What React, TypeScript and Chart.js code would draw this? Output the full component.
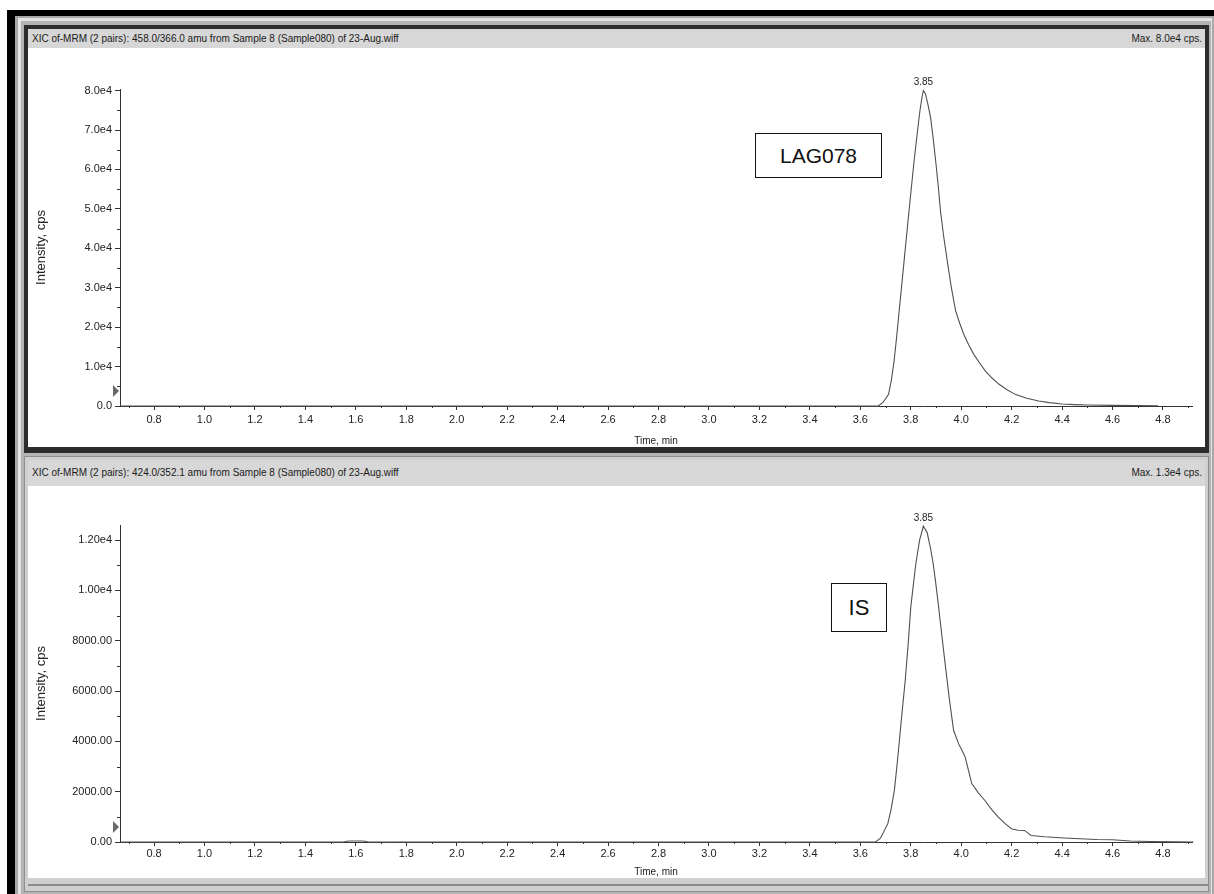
import React, { useEffect, useRef } from "react";
import { Chart, registerables } from "chart.js";

Chart.register(...registerables);

const FONT = "'Liberation Sans', Arial, sans-serif";

// LAG078 trace (time in min, intensity in cps)
const lagTimes = [
  0.67, 3.66, 3.671, 3.69, 3.712, 3.723, 3.734, 3.744, 3.754, 3.767, 3.78, 3.797, 3.813, 3.825,
  3.836, 3.845, 3.85, 3.858, 3.868, 3.879, 3.889, 3.899, 3.909, 3.918, 3.931, 3.945, 3.961, 3.978,
  3.994, 4.01, 4.03, 4.05, 4.073, 4.096, 4.122, 4.149, 4.18, 4.214, 4.26, 4.307, 4.35, 4.4, 4.45,
  4.5, 4.6, 4.7, 4.78,
];
const lagValues = [
  0, 0, 0, 900, 2950, 6500, 11400, 17500, 24100, 32500, 41000, 52000, 62000, 68800,
  74700, 78500, 80000, 79200, 76500, 73000, 67800, 62000, 55800, 49400, 42800, 36700, 30000, 24100,
  21000, 18200, 15500, 13100, 10900, 8860, 7100, 5570, 4200, 2950, 1950, 1270, 850, 520, 350,
  250, 170, 120, 80,
];

// IS trace
const isTimes = [
  0.67, 1.55, 1.57, 1.63, 1.65, 3.66, 3.68, 3.709, 3.722, 3.735, 3.745, 3.755, 3.766, 3.778, 3.79,
  3.8, 3.81, 3.82, 3.835, 3.85, 3.865, 3.879, 3.889, 3.898, 3.908, 3.918, 3.928, 3.938, 3.954, 3.97,
  3.99, 4.003, 4.016, 4.03, 4.042, 4.068, 4.094, 4.12, 4.147, 4.173, 4.199, 4.225, 4.251, 4.277,
  4.33, 4.408, 4.47, 4.539, 4.6, 4.67, 4.75, 4.85, 4.92,
];
const isValues = [
  0, 0, 40, 40, 0, 0, 150, 730, 1300, 2050, 3000, 4036, 5200, 6417, 7900,
  9325, 10200, 11050, 12000, 12550, 12300, 11640, 11050, 10380, 9550, 8670, 7800, 6940, 5600, 4430,
  3900, 3650, 3370, 2800, 2320, 1950, 1650, 1300, 990, 740, 530, 470, 460, 260,
  210, 160, 130, 100, 90, 40, 20, 10, 0,
];

// axis ticks
const xTickValues = [
  0.8, 1.0, 1.2, 1.4, 1.6, 1.8, 2.0, 2.2, 2.4, 2.6, 2.8, 3.0, 3.2, 3.4, 3.6, 3.8, 4.0, 4.2, 4.4, 4.6, 4.8,
];
const topYTicks = [0, 10000, 20000, 30000, 40000, 50000, 60000, 70000, 80000];
const bottomYTicks = [0, 2000, 4000, 6000, 8000, 10000, 12000];

const xRange = [0.665, 4.915];
const topYMax = 80400;
const bottomYMax = 12600;
const topMarker = 3800;
const bottomMarker = 600;

const topTitle = "XIC of-MRM (2 pairs): 458.0/366.0 amu from Sample 8 (Sample080) of 23-Aug.wiff";
const topMax = "Max. 8.0e4 cps.";
const bottomTitle = "XIC of-MRM (2 pairs): 424.0/352.1 amu from Sample 8 (Sample080) of 23-Aug.wiff";
const bottomMax = "Max. 1.3e4 cps.";

const extrasPlugin = {
  id: "chromaExtras",
  afterDraw(chart: any, _args: any, opts: any) {
    const { ctx, chartArea } = chart;
    const x = chart.scales.x;
    const y = chart.scales.y;
    ctx.save();
    ctx.strokeStyle = "#333";
    ctx.lineWidth = 1;
    // minor x ticks
    const xs = opts.xMinor;
    const kx0 = Math.ceil(x.min / xs - 1e-9);
    for (let k = kx0; k * xs <= x.max + 1e-9; k++) {
      if (k % 2 === 0) continue;
      const px = Math.round(x.getPixelForValue(k * xs)) + 0.5;
      ctx.beginPath();
      ctx.moveTo(px, chartArea.bottom);
      ctx.lineTo(px, chartArea.bottom + 2);
      ctx.stroke();
    }
    // minor y ticks
    const ys = opts.yMinor;
    for (let k = 1; k * ys <= y.max + 1e-9; k += 2) {
      const py = Math.round(y.getPixelForValue(k * ys)) + 0.5;
      ctx.beginPath();
      ctx.moveTo(chartArea.left - 3, py);
      ctx.lineTo(chartArea.left, py);
      ctx.stroke();
    }
    // threshold marker triangle
    const my = y.getPixelForValue(opts.marker);
    ctx.fillStyle = "#6a6a6a";
    ctx.beginPath();
    ctx.moveTo(chartArea.left - 7, my - 6);
    ctx.lineTo(chartArea.left - 1, my);
    ctx.lineTo(chartArea.left - 7, my + 6);
    ctx.closePath();
    ctx.fill();
    // peak label
    const data = chart.data.datasets[0].data;
    let best = 0;
    for (let i = 1; i < data.length; i++) if (data[i].y > data[best].y) best = i;
    const pk = data[best];
    ctx.fillStyle = "#222";
    ctx.font = `10px ${FONT}`;
    ctx.textAlign = "center";
    ctx.textBaseline = "bottom";
    ctx.fillText(pk.x.toFixed(2), x.getPixelForValue(pk.x), y.getPixelForValue(pk.y) - 3);
    ctx.restore();
  },
};

type PanelCfg = {
  times: number[];
  values: number[];
  yMax: number;
  yTicks: number[];
  yMinor: number;
  yFormat: (v: number) => string;
  marker: number;
  padTop: number;
  xAxisH: number;
  xTitlePad: number;
  xTickPad: number;
};

function ChromCanvas({ cfg, width, height }: { cfg: PanelCfg; width: number; height: number }) {
  const ref = useRef<HTMLCanvasElement | null>(null);
  useEffect(() => {
    if (!ref.current) return;
    const chart = new Chart(ref.current, {
      type: "scatter",
      data: {
        datasets: [
          {
            data: cfg.times.map((t, i) => ({ x: t, y: cfg.values[i] })),
            showLine: true,
            pointRadius: 0,
            borderColor: "#505050",
            borderWidth: 1.1,
            tension: 0,
            clip: 4,
          } as any,
        ],
      },
      options: {
        responsive: false,
        animation: false,
        layout: { padding: { top: cfg.padTop, right: 12, left: 0, bottom: 0 } },
        plugins: {
          legend: { display: false },
          tooltip: { enabled: false },
          chromaExtras: { xMinor: 0.1, yMinor: cfg.yMinor, marker: cfg.marker },
        } as any,
        scales: {
          x: {
            type: "linear",
            min: xRange[0],
            max: xRange[1],
            afterFit: (s: any) => {
              s.height = cfg.xAxisH;
            },
            afterBuildTicks: (s: any) => {
              s.ticks = xTickValues.map((v) => ({ value: v }));
            },
            ticks: {
              autoSkip: false,
              maxRotation: 0,
              padding: cfg.xTickPad,
              color: "#222",
              font: { family: FONT, size: 11 },
              callback: (v: any) => Number(v).toFixed(1),
            },
            grid: { drawOnChartArea: false, drawTicks: true, tickLength: 4, color: "#333" },
            border: { color: "#333", width: 1 },
            title: {
              display: true,
              text: "Time, min",
              color: "#222",
              font: { family: FONT, size: 10 },
              padding: { top: cfg.xTitlePad, bottom: 0 },
            },
          },
          y: {
            type: "linear",
            min: 0,
            max: cfg.yMax,
            afterFit: (s: any) => {
              s.width = 88;
            },
            afterBuildTicks: (s: any) => {
              s.ticks = cfg.yTicks.map((v) => ({ value: v }));
            },
            ticks: {
              autoSkip: false,
              padding: 3,
              color: "#222",
              font: { family: FONT, size: 11 },
              callback: (v: any) => cfg.yFormat(Number(v)),
            },
            grid: { drawOnChartArea: false, drawTicks: true, tickLength: 5, color: "#333" },
            border: { color: "#333", width: 1 },
            title: {
              display: true,
              text: "Intensity, cps",
              color: "#222",
              font: { family: FONT, size: 13 },
              padding: { top: 2, bottom: 0 },
            },
          },
        },
      } as any,
      plugins: [extrasPlugin as any],
    });
    return () => chart.destroy();
  }, [cfg]);
  return <canvas ref={ref} width={width} height={height} style={{ position: "absolute", left: 0, top: 0 }} />;
}

const topCfg: PanelCfg = {
  times: lagTimes,
  values: lagValues,
  yMax: topYMax,
  yTicks: topYTicks,
  yMinor: 5000,
  yFormat: (v) => (v === 0 ? "0.0" : (v / 10000).toFixed(1) + "e4"),
  marker: topMarker,
  padTop: 41,
  xAxisH: 41,
  xTitlePad: 8,
  xTickPad: 3,
};

const bottomCfg: PanelCfg = {
  times: isTimes,
  values: isValues,
  yMax: bottomYMax,
  yTicks: bottomYTicks,
  yMinor: 1000,
  yFormat: (v) => (v >= 10000 ? (v / 10000).toFixed(2) + "e4" : v.toFixed(2)),
  marker: bottomMarker,
  padTop: 39,
  xAxisH: 36,
  xTitlePad: 6,
  xTickPad: 1,
};

const abs = (l: number, t: number, w: number, h: number, bg: string): React.CSSProperties => ({
  position: "absolute",
  left: l,
  top: t,
  width: w,
  height: h,
  background: bg,
});

function TitleBar({ left, top, width, height, text, max }: any) {
  return (
    <div
      style={{
        ...abs(left, top, width, height, "#d7d7d7"),
        fontFamily: FONT,
        fontSize: 10,
        color: "#1a1a1a",
        lineHeight: height + "px",
        whiteSpace: "nowrap",
      }}
    >
      <span style={{ position: "absolute", left: 4 }}>{text}</span>
      <span style={{ position: "absolute", right: 3 }}>{max}</span>
    </div>
  );
}

export default function App() {
  return (
    <div style={{ position: "fixed", left: 0, top: 0, width: 1214, height: 894, background: "#fff", overflow: "hidden" }}>
      <div style={abs(7, 10, 1207, 884, "#000")} />
      <div style={abs(15, 16, 1199, 878, "#a8a8a8")} />
      <div style={abs(18, 18, 1194, 876, "#e4e4e4")} />
      <div style={abs(21, 21, 1190, 873, "#b4b4b4")} />

      {/* top panel (selected, dark frame) */}
      <div style={abs(24, 25, 1185, 428, "#2c2c2c")} />
      <TitleBar left={28} top={29} width={1177} height={19} text={topTitle} max={topMax} />
      <div style={abs(28, 48, 1177, 399, "#fff")}>
        <div style={{ position: "absolute", left: 4, top: 0, width: 1172, height: 399 }}>
          <ChromCanvas cfg={topCfg} width={1172} height={399} />
        </div>
      </div>
      <div
        style={{
          position: "absolute",
          left: 755,
          top: 133,
          width: 125,
          height: 43,
          border: "1.5px solid #111",
          background: "#fff",
          fontFamily: FONT,
          fontSize: 21,
          lineHeight: "43px",
          textAlign: "center",
          color: "#111",
        }}
      >
        LAG078
      </div>

      {/* bottom panel */}
      <div style={abs(24, 456, 1185, 436, "#8e8e8e")} />
      <div style={abs(25, 457, 1183, 434, "#cfcfcf")} />
      <TitleBar left={28} top={460} width={1177} height={26} text={bottomTitle} max={bottomMax} />
      <div style={abs(28, 486, 1177, 392, "#fff")}>
        <div style={{ position: "absolute", left: 4, top: 0, width: 1172, height: 392 }}>
          <ChromCanvas cfg={bottomCfg} width={1172} height={392} />
        </div>
      </div>
      <div style={abs(28, 884, 1180, 2, "#8a8a8a")} />
      <div
        style={{
          position: "absolute",
          left: 831,
          top: 583,
          width: 54,
          height: 47,
          border: "1.5px solid #111",
          background: "#fff",
          fontFamily: FONT,
          fontSize: 22,
          lineHeight: "47px",
          textAlign: "center",
          color: "#111",
        }}
      >
        IS
      </div>
    </div>
  );
}
